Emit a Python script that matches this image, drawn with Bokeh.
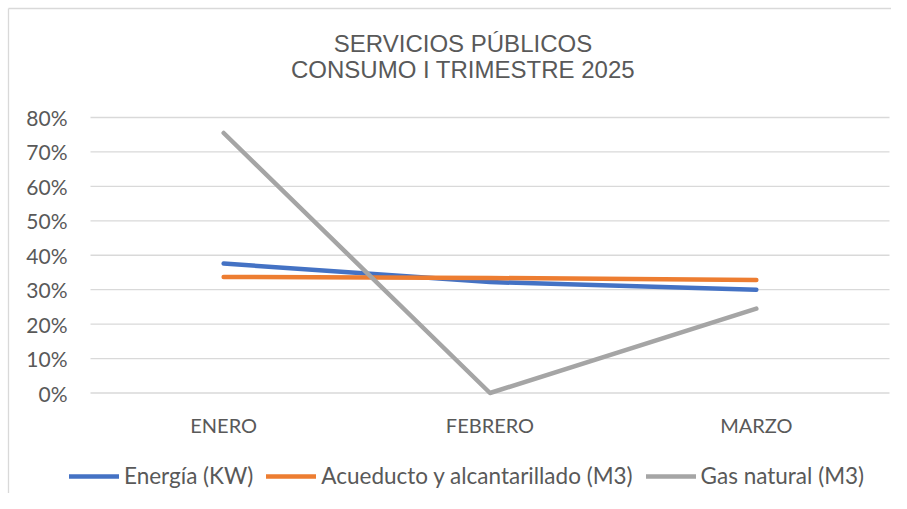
from bokeh.plotting import figure
from bokeh.models import Range1d, Legend, LegendItem, Label
from bokeh.embed import file_html
from bokeh.resources import INLINE
from bokeh.core.properties import value

# ---- data ----
months = ["ENERO", "FEBRERO", "MARZO"]
energia = [0.376, 0.322, 0.300]
acueducto = [0.337, 0.334, 0.328]
gas_natural = [0.755, 0.0, 0.245]
y_ticks = [0.0, 0.1, 0.2, 0.3, 0.4, 0.5, 0.6, 0.7, 0.8]
y_tick_labels = [f"{round(t * 100)}%" for t in y_ticks]
series_names = ["Energía (KW)", "Acueducto y alcantarillado (M3)", "Gas natural (M3)"]
series_colors = ["#4472C4", "#ED7D31", "#A5A5A5"]
title_lines = ["SERVICIOS PÚBLICOS", "CONSUMO I TRIMESTRE 2025"]

TEXT = "#595959"
FONT = "Lato"
W, H = 891, 493

# category slots: each category occupies one unit, centred at i + 0.5
x_pos = [i + 0.5 for i in range(len(months))]
n_cat = len(months)

# pixel <-> data mapping of the plotting area (plot area 90..889 px, 0%..80% at 392.5..117 px)
PX_PER_X = (889 - 90) / n_cat
PX_PER_Y = (392.5 - 117) / 0.8
def dx(px):
    return (px - 90) / PX_PER_X
def dy(py):
    return (392.5 - py) / PX_PER_Y

p = figure(width=W, height=H, x_range=Range1d(dx(0), dx(W)), y_range=Range1d(dy(H), dy(0)),
           output_backend="svg", toolbar_location=None, title=None,
           x_axis_location=None, y_axis_location=None,
           min_border_left=0, min_border_right=0, min_border_top=0, min_border_bottom=0)
p.outline_line_color = None
p.background_fill_color = "white"
p.border_fill_color = "white"
p.xgrid.visible = False
p.ygrid.visible = False

# chart border (top / left)
p.segment(x0=[dx(8), dx(8)], y0=[dy(8), dy(8)], x1=[dx(W), dx(8)], y1=[dy(8), dy(H)],
          line_color="#D9D9D9", line_width=1.3)

# horizontal gridlines across the category band
p.segment(x0=[0] * len(y_ticks), x1=[n_cat] * len(y_ticks), y0=y_ticks, y1=y_ticks,
          line_color="#D9D9D9", line_width=1.3)

# y tick labels
p.text(x=[dx(67)] * len(y_ticks), y=y_ticks, text=y_tick_labels,
       text_align="right", text_baseline="middle", text_font=value(FONT),
       text_font_size="21px", text_color=TEXT)

# category labels
p.text(x=x_pos, y=[dy(424)] * n_cat, text=months,
       text_align="center", text_baseline="middle", text_font=value(FONT),
       text_font_size="20px", text_color=TEXT)

items = []
for name, vals, col in zip(series_names, [energia, acueducto, gas_natural], series_colors):
    r = p.line(x_pos, vals, line_color=col, line_width=4.5, line_cap="round", line_join="round")
    items.append(LegendItem(label=name, renderers=[r]))

legend = Legend(items=items, orientation="horizontal", location=(69, 4),
                glyph_width=50, glyph_height=24, label_height=24, label_standoff=5, spacing=13,
                padding=0, margin=0, border_line_color=None, background_fill_alpha=0,
                label_text_font=FONT, label_text_font_size="22.5px", label_text_color=TEXT)
p.add_layout(legend, "center")

for txt, py in zip(title_lines, [43, 69]):
    p.add_layout(Label(x=462.5, y=H - py, x_units="screen", y_units="screen", text=txt,
                       text_align="center", text_baseline="middle",
                       text_font="Liberation Sans", text_font_size="24px",
                       text_color=TEXT))

open("out.html", "w").write(file_html(p, INLINE))
